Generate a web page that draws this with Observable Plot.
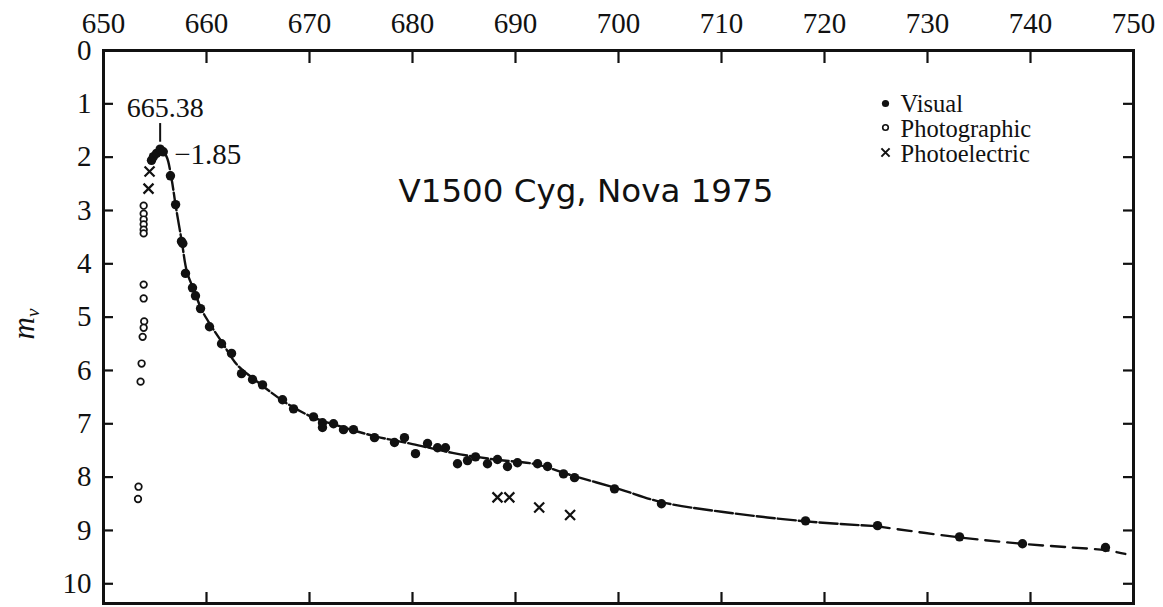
<!DOCTYPE html>
<html>
<head>
<meta charset="utf-8">
<script src="https://cdn.jsdelivr.net/npm/d3@7"></script>
<script src="https://cdn.jsdelivr.net/npm/@observablehq/plot@0.6"></script>
<style>
  html, body { margin: 0; padding: 0; background: #fff; }
  #chart svg { display: block; }
</style>
</head>
<body>
<div id="chart"></div>
<script>
// Light curve of V1500 Cyg (Nova 1975): apparent visual magnitude vs. date

// Tick values
const xTicks = [650, 660, 670, 680, 690, 700, 710, 720, 730, 740, 750];
const yTicks = [0, 1, 2, 3, 4, 5, 6, 7, 8, 9, 10];

// Visual estimates
const visualX = [654.66, 654.85, 655.15, 655.5, 655.8, 656.5, 657.0, 657.57, 657.7, 657.96,
  658.64, 658.93, 659.42, 660.29, 661.46, 662.43, 663.4, 664.47, 665.44, 667.38,
  668.45, 670.39, 671.26, 671.26, 672.33, 673.3, 674.27, 676.31, 678.25, 679.22,
  680.29, 681.46, 682.43, 683.2, 684.37, 685.34, 686.12, 687.28, 688.25, 689.22,
  690.19, 692.14, 693.11, 694.66, 695.73, 699.61, 704.17, 718.16, 725.15, 733.11,
  739.22, 747.28];
const visualY = [2.06, 1.99, 1.93, 1.85, 1.9, 2.35, 2.89, 3.58, 3.62, 4.18,
  4.45, 4.6, 4.84, 5.18, 5.5, 5.68, 6.06, 6.17, 6.27, 6.55,
  6.72, 6.87, 6.98, 7.07, 7.0, 7.11, 7.11, 7.26, 7.35, 7.26,
  7.56, 7.37, 7.45, 7.45, 7.75, 7.69, 7.62, 7.75, 7.67, 7.8,
  7.73, 7.75, 7.8, 7.94, 8.01, 8.22, 8.5, 8.82, 8.91, 9.12,
  9.25, 9.32];

// Photographic magnitudes
const photoX = [653.9, 653.9, 653.9, 653.9, 653.9, 653.9, 653.9, 653.9, 653.95, 653.9, 653.8, 653.7, 653.6, 653.4, 653.35];
const photoY = [2.91, 3.06, 3.17, 3.26, 3.36, 3.43, 4.39, 4.65, 5.08, 5.2, 5.37, 5.87, 6.21, 8.18, 8.41];

// Photoelectric magnitudes
const elecX = [654.47, 654.37, 688.25, 689.4, 692.3, 695.3];
const elecY = [2.27, 2.59, 8.38, 8.38, 8.57, 8.71];

// Smoothed light curve: well-observed part and extrapolated tail
const fitX = [654.4, 654.9, 655.5, 656.1, 656.6, 657.0, 657.6, 658.1, 658.8, 659.5,
  660.4, 661.5, 663.0, 665.0, 667.5, 670.0, 673.0, 676.5, 680.0, 684.0,
  688.0, 692.0, 695.0, 700.0, 704.2, 710.0, 718.2, 725.0];
const fitY = [2.05, 1.92, 1.85, 1.98, 2.4, 2.9, 3.58, 4.15, 4.5, 4.85,
  5.15, 5.47, 5.9, 6.22, 6.58, 6.85, 7.05, 7.24, 7.38, 7.55,
  7.67, 7.76, 7.94, 8.22, 8.47, 8.65, 8.83, 8.92];
const tailX = [725.0, 733.1, 739.2, 744.0, 747.3, 749.2];
const tailY = [8.92, 9.13, 9.25, 9.32, 9.37, 9.44];

// Maximum light
const peakX = 655.5;
const peakY = 1.85;
const peakDateLabel = "665.38";
const peakMagLabel = "\u22121.85";

// Legend entries and title
const legendLabels = ["Visual", "Photographic", "Photoelectric"];
const titleText = "V1500 Cyg, Nova 1975";

const zip = (xs, ys) => xs.map((x, i) => ({x, y: ys[i]}));
const visual = zip(visualX, visualY);
const photo = zip(photoX, photoY);
const elec = zip(elecX, elecY);
const fit = zip(fitX, fitY);
const tail = zip(tailX, tailY);
const peak = [{x: peakX, y: peakY}];

const W = 1163, H = 607;
const mL = 103, mR = 30, mT = 50, mB = 4;
const innerW = W - mL - mR, innerH = H - mT - mB;
const serif = "'Liberation Serif', 'Times New Roman', serif";
const ink = "#111";

const chart = Plot.plot({
  width: W,
  height: H,
  marginLeft: mL,
  marginRight: mR,
  marginTop: mT,
  marginBottom: mB,
  style: {background: "#fff", color: ink, fontFamily: serif},
  x: {domain: [650, 750]},
  y: {domain: [0, 10.37], reverse: true},
  marks: [
    // axis labels
    Plot.axisX(xTicks, {anchor: "top", tickSize: 0, tickPadding: 18, tickFormat: d => String(d), fontSize: 29, fontFamily: serif, fill: ink, label: null}),
    Plot.axisY(yTicks, {anchor: "left", tickSize: 0, tickPadding: 12, tickFormat: d => String(d), fontSize: 29, fontFamily: serif, fill: ink, label: null}),
    // inward ticks on all four sides
    Plot.ruleX(xTicks.slice(1, -1), {stroke: ink, strokeWidth: 2.2, insetBottom: innerH - 13}),
    Plot.ruleX(xTicks.slice(1, -1), {stroke: ink, strokeWidth: 2.2, insetTop: innerH - 11}),
    Plot.ruleY(yTicks.slice(1), {stroke: ink, strokeWidth: 2.2, insetRight: innerW - 10}),
    Plot.ruleY(yTicks.slice(1), {stroke: ink, strokeWidth: 2.2, insetLeft: innerW - 10}),
    Plot.frame({stroke: ink, strokeWidth: 3}),

    // smoothed curve
    Plot.line(fit, {x: "x", y: "y", curve: "catmull-rom", stroke: ink, strokeWidth: 2.4, strokeDasharray: "18,3"}),
    Plot.line(tail, {x: "x", y: "y", curve: "catmull-rom", stroke: ink, strokeWidth: 2.4, strokeDasharray: "14,8"}),

    // observations
    Plot.dot(photo, {x: "x", y: "y", r: 3.3, stroke: ink, strokeWidth: 1.7, fill: "#fff"}),
    Plot.dot(elec, {x: "x", y: "y", symbol: "times", r: 4.6, stroke: ink, strokeWidth: 2.2}),
    Plot.dot(visual, {x: "x", y: "y", r: 4.7, fill: ink, stroke: "none"}),

    // maximum annotation
    Plot.ruleX(peak, {x: "x", y1: d => d.y - 0.48, y2: d => d.y - 0.13, stroke: ink, strokeWidth: 2}),
    Plot.text(peak, {x: "x", y: "y", text: () => peakDateLabel, dx: 5, dy: -41, fontSize: 28, fontFamily: serif, fill: ink}),
    Plot.text(peak, {x: "x", y: "y", text: () => peakMagLabel, textAnchor: "start", dx: 14, dy: 6, fontSize: 29, fontFamily: serif, fill: ink}),

    // title
    Plot.text([titleText], {frameAnchor: "top-left", lineAnchor: "middle", dx: 295, dy: 141, textAnchor: "start", fontSize: 32.5, fontFamily: "'DejaVu Sans', Verdana, sans-serif", fill: ink}),

    // legend
    Plot.dot([legendLabels[0]], {x: null, y: null, frameAnchor: "top-right", dx: -248, dy: 53, r: 3.6, fill: ink, stroke: "none"}),
    Plot.dot([legendLabels[1]], {x: null, y: null, frameAnchor: "top-right", dx: -248, dy: 77, r: 2.8, fill: "#fff", stroke: ink, strokeWidth: 1.6}),
    Plot.dot([legendLabels[2]], {x: null, y: null, frameAnchor: "top-right", dx: -248, dy: 102, symbol: "times", r: 3.8, stroke: ink, strokeWidth: 2}),
    ...legendLabels.map((label, i) =>
      Plot.text([label], {frameAnchor: "top-right", lineAnchor: "middle", dx: -233, dy: 54 + 25 * i, textAnchor: "start", fontSize: 24.5, fontFamily: serif, fill: ink})
    )
  ]
});

// y-axis label: italic m with subscript v
const yLabel = d3.select(chart).append("text")
  .attr("transform", `translate(34, 324) rotate(-90)`)
  .attr("text-anchor", "middle")
  .attr("font-family", serif)
  .attr("font-style", "italic")
  .attr("fill", ink);
yLabel.append("tspan").attr("font-size", 31).text("m");
yLabel.append("tspan").attr("font-size", 19).attr("dy", 5).text("v");

document.getElementById("chart").appendChild(chart);
</script>
</body>
</html>
